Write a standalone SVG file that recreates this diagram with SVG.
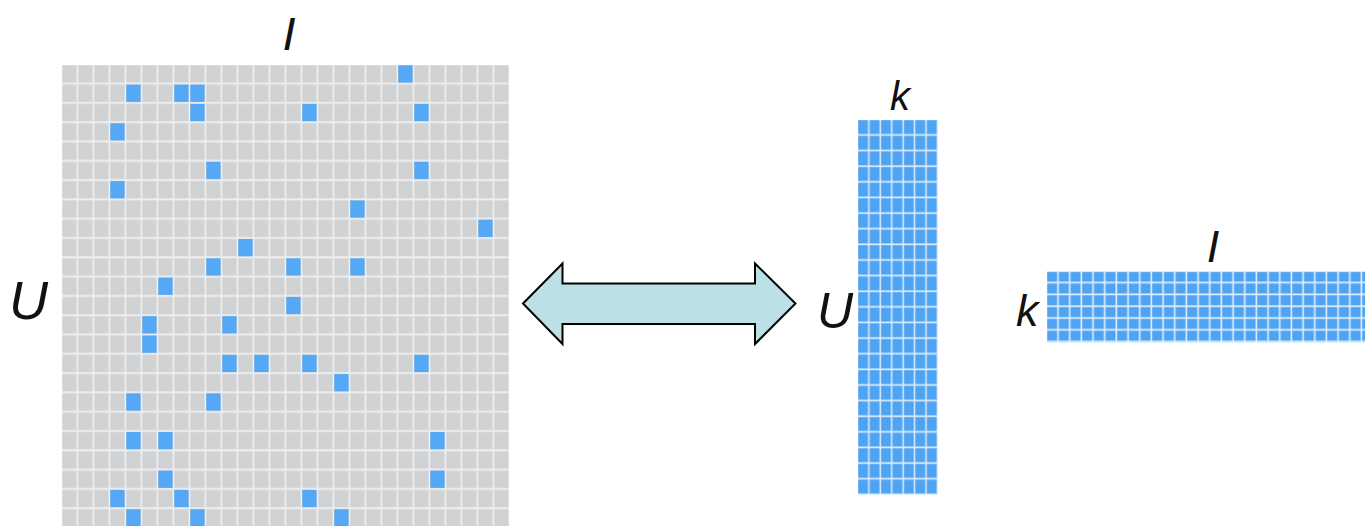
<svg xmlns="http://www.w3.org/2000/svg" width="1365" height="526" viewBox="0 0 1365 526">
<style>
.lbl{font-family:"Liberation Sans",Arial,sans-serif;font-style:italic;fill:#111}
.b{fill:#55a8f6}
</style>
<defs>
<pattern id="gray" patternUnits="userSpaceOnUse" x="62" y="65" width="16" height="19.3">
<rect x="0" y="0" width="16" height="19.3" fill="#eeeeee"/>
<rect x="0.3" y="0.3" width="14.3" height="17.3" fill="#d1d2d4"/>
</pattern>
<pattern id="tall" patternUnits="userSpaceOnUse" x="858" y="120" width="11.43" height="15.625">
<rect x="0" y="0" width="11.43" height="15.625" fill="#dcedfc"/>
<rect x="0.2" y="0.2" width="9.9" height="13.9" fill="#4fa3f3"/>
</pattern>
<pattern id="wide" patternUnits="userSpaceOnUse" x="1047" y="271.5" width="11.67" height="11.8">
<rect x="0" y="0" width="11.67" height="11.8" fill="#dcedfc"/>
<rect x="0.2" y="0.2" width="10" height="10" fill="#4fa3f3"/>
</pattern>
</defs>
<rect width="1365" height="526" fill="#ffffff"/>

<g id="rating-matrix">
<rect x="62" y="65" width="447" height="461" fill="url(#gray)"/>
<g transform="translate(62.3 65.3)">
<rect class="b" x="336" y="0" width="14.3" height="17.3"/>
<rect class="b" x="64" y="19.3" width="14.3" height="17.3"/>
<rect class="b" x="112" y="19.3" width="14.3" height="17.3"/>
<rect class="b" x="128" y="19.3" width="14.3" height="17.3"/>
<rect class="b" x="128" y="38.6" width="14.3" height="17.3"/>
<rect class="b" x="240" y="38.6" width="14.3" height="17.3"/>
<rect class="b" x="352" y="38.6" width="14.3" height="17.3"/>
<rect class="b" x="48" y="57.9" width="14.3" height="17.3"/>
<rect class="b" x="144" y="96.5" width="14.3" height="17.3"/>
<rect class="b" x="352" y="96.5" width="14.3" height="17.3"/>
<rect class="b" x="48" y="115.8" width="14.3" height="17.3"/>
<rect class="b" x="288" y="135.1" width="14.3" height="17.3"/>
<rect class="b" x="416" y="154.4" width="14.3" height="17.3"/>
<rect class="b" x="176" y="173.7" width="14.3" height="17.3"/>
<rect class="b" x="144" y="193" width="14.3" height="17.3"/>
<rect class="b" x="224" y="193" width="14.3" height="17.3"/>
<rect class="b" x="288" y="193" width="14.3" height="17.3"/>
<rect class="b" x="96" y="212.3" width="14.3" height="17.3"/>
<rect class="b" x="224" y="231.6" width="14.3" height="17.3"/>
<rect class="b" x="80" y="250.9" width="14.3" height="17.3"/>
<rect class="b" x="160" y="250.9" width="14.3" height="17.3"/>
<rect class="b" x="80" y="270.2" width="14.3" height="17.3"/>
<rect class="b" x="160" y="289.5" width="14.3" height="17.3"/>
<rect class="b" x="192" y="289.5" width="14.3" height="17.3"/>
<rect class="b" x="240" y="289.5" width="14.3" height="17.3"/>
<rect class="b" x="352" y="289.5" width="14.3" height="17.3"/>
<rect class="b" x="272" y="308.8" width="14.3" height="17.3"/>
<rect class="b" x="64" y="328.1" width="14.3" height="17.3"/>
<rect class="b" x="144" y="328.1" width="14.3" height="17.3"/>
<rect class="b" x="64" y="366.7" width="14.3" height="17.3"/>
<rect class="b" x="96" y="366.7" width="14.3" height="17.3"/>
<rect class="b" x="368" y="366.7" width="14.3" height="17.3"/>
<rect class="b" x="96" y="405.3" width="14.3" height="17.3"/>
<rect class="b" x="368" y="405.3" width="14.3" height="17.3"/>
<rect class="b" x="48" y="424.6" width="14.3" height="17.3"/>
<rect class="b" x="112" y="424.6" width="14.3" height="17.3"/>
<rect class="b" x="240" y="424.6" width="14.3" height="17.3"/>
<rect class="b" x="64" y="443.9" width="14.3" height="17.3"/>
<rect class="b" x="128" y="443.9" width="14.3" height="17.3"/>
<rect class="b" x="272" y="443.9" width="14.3" height="17.3"/>
</g>
<text class="lbl" x="289" y="50" font-size="47" text-anchor="middle">I</text>
<text class="lbl" x="9" y="319" font-size="54">U</text>
</g>

<g id="connectors">
<path d="M523 303.5 L562.5 263.5 L562.5 283.5 L755 283.5 L755 263.5 L795.5 303.5 L755 344 L755 324 L562.5 324 L562.5 344 Z" fill="#bce1e4" stroke="#000" stroke-width="2" stroke-linejoin="miter"/>
</g>

<g id="user-factors">
<rect x="858" y="120" width="80" height="375" fill="url(#tall)"/>
<text class="lbl" x="900" y="110" font-size="40" text-anchor="middle">k</text>
<text class="lbl" x="817" y="328" font-size="50">U</text>
</g>

<g id="item-factors">
<rect x="1047" y="271.5" width="318" height="70.8" fill="url(#wide)"/>
<text class="lbl" x="1016" y="326" font-size="45">k</text>
<text class="lbl" x="1213" y="262" font-size="45" text-anchor="middle">I</text>
</g>
</svg>
